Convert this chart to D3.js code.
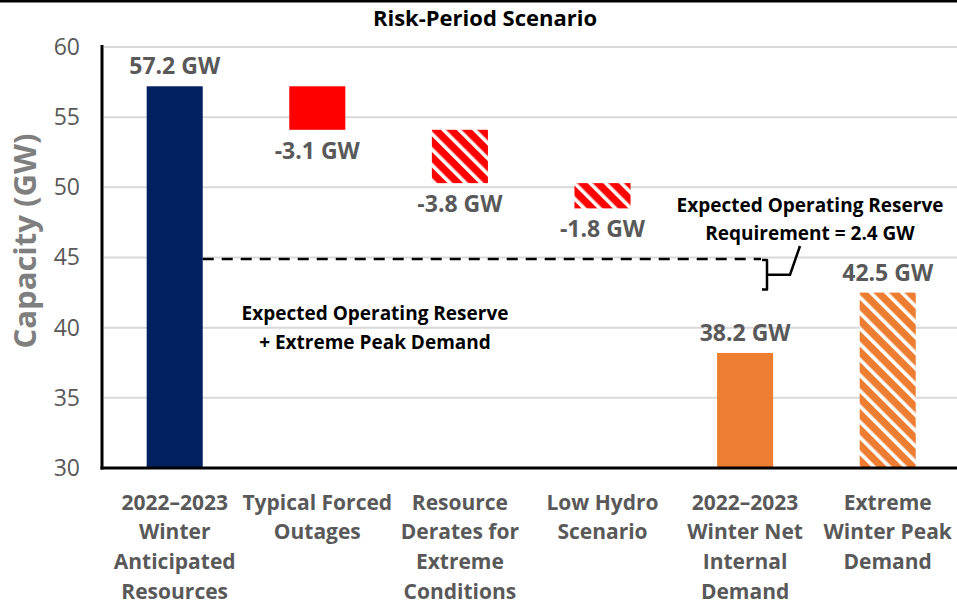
<!DOCTYPE html>
<html>
<head>
<meta charset="utf-8">
<script src="https://cdn.jsdelivr.net/npm/d3@7"></script>
<style>
  html, body { margin: 0; padding: 0; background: #fff; }
  svg { display: block; font-family: "Open Sans", Lato, sans-serif; }
</style>
</head>
<body>
<svg id="chart" width="957" height="605"></svg>
<script>
// Waterfall steps, in GW
const categories = [
  ["2022\u20132023", "Winter", "Anticipated", "Resources"],
  ["Typical Forced", "Outages"],
  ["Resource", "Derates for", "Extreme", "Conditions"],
  ["Low Hydro", "Scenario"],
  ["2022\u20132023", "Winter Net", "Internal", "Demand"],
  ["Extreme", "Winter Peak", "Demand"]
];
const stepValues = [57.2, -3.1, -3.8, -1.8, 38.2, 42.5];
const stepKinds  = ["total", "delta", "delta", "delta", "total", "total"];
const stepFills  = ["navy", "red", "redHatch", "redHatch", "orange", "orangeHatch"];
const yTicks = [30, 35, 40, 45, 50, 55, 60];
const reserveRequirement = 2.4;

const palette = { navy: "#002060", red: "#FF0000", orange: "#ED7D31" };
const FONT = '"Open Sans", Lato, sans-serif';

const svg = d3.select("#chart");
const W = 957, H = 605;

const y = d3.scaleLinear().domain([30, 60]).range([468, 47]);
const x = d3.scaleBand()
  .domain(d3.range(categories.length))
  .range([103.4, 959])
  .paddingInner(0.607)
  .paddingOuter(0.3035);

// diagonal hatch fills
const defs = svg.append("defs");
function hatch(id, color) {
  const p = defs.append("pattern")
    .attr("id", id)
    .attr("patternUnits", "userSpaceOnUse")
    .attr("width", 11).attr("height", 11)
    .attr("patternTransform", "rotate(45)");
  p.append("rect").attr("width", 11).attr("height", 11).attr("fill", "#fff");
  p.append("rect").attr("width", 11).attr("height", 7.4).attr("fill", color);
}
hatch("redHatch", palette.red);
hatch("orangeHatch", palette.orange);
const fillFor = k => k === "redHatch" ? "url(#redHatch)" :
                     k === "orangeHatch" ? "url(#orangeHatch)" : palette[k];

// top rule
svg.append("rect").attr("x", 0).attr("y", 0).attr("width", W).attr("height", 2.5).attr("fill", "#000");

// title
svg.append("text")
  .attr("x", 485).attr("y", 26)
  .attr("text-anchor", "middle")
  .attr("font-weight", 700).attr("font-size", 22).attr("fill", "#000")
  .text("Risk-Period Scenario");

// gridlines
svg.append("g").selectAll("line")
  .data(yTicks.filter(t => t > 30))
  .join("line")
  .attr("x1", 104).attr("x2", W)
  .attr("y1", d => y(d)).attr("y2", d => y(d))
  .attr("stroke", "#d9d9d9").attr("stroke-width", 2);

// y axis
const yAxis = svg.append("g")
  .attr("transform", "translate(102,0)")
  .call(d3.axisLeft(y).tickValues(yTicks).tickSize(0).tickPadding(22).tickFormat(d3.format("d")));
yAxis.select(".domain").remove();
yAxis.selectAll("text")
  .attr("font-family", FONT)
  .attr("font-size", 23).attr("fill", "#595959");

svg.append("text")
  .attr("transform", "translate(36,241) rotate(-90)")
  .attr("text-anchor", "middle")
  .attr("font-weight", 700).attr("font-size", 31).attr("fill", "#7f7f7f")
  .text("Capacity (GW)");

// floating bar extents
let running = 0;
const bars = stepValues.map((v, i) => {
  let lo, hi;
  if (stepKinds[i] === "total") { lo = 30; hi = v; running = v; }
  else { hi = running; lo = running + v; running = lo; }
  return { i, v, lo, hi, kind: stepKinds[i], fill: stepFills[i] };
});

svg.append("g").selectAll("rect")
  .data(bars)
  .join("rect")
  .attr("x", d => x(d.i))
  .attr("width", x.bandwidth())
  .attr("y", d => y(d.hi))
  .attr("height", d => y(d.lo) - y(d.hi))
  .attr("fill", d => fillFor(d.fill));

// value labels
svg.append("g").selectAll("text")
  .data(bars)
  .join("text")
  .attr("x", d => x(d.i) + x.bandwidth() / 2)
  .attr("y", d => d.kind === "total" ? y(d.hi) - 12 : y(d.lo) + 29)
  .attr("text-anchor", "middle")
  .attr("font-weight", 700).attr("font-size", 23).attr("fill", "#595959")
  .text(d => d.v.toFixed(1) + " GW");

// axis lines
svg.append("line").attr("x1", 102).attr("x2", 102).attr("y1", 45).attr("y2", 469.5)
  .attr("stroke", "#000").attr("stroke-width", 3);
svg.append("line").attr("x1", 100.5).attr("x2", W).attr("y1", 468).attr("y2", 468)
  .attr("stroke", "#000").attr("stroke-width", 3);

// category labels
const cat = svg.append("g").selectAll("text")
  .data(categories)
  .join("text")
  .attr("x", (d, i) => x(i) + x.bandwidth() / 2)
  .attr("y", 509.5)
  .attr("text-anchor", "middle")
  .attr("font-weight", 700).attr("font-size", 21).attr("fill", "#595959");
cat.selectAll("tspan")
  .data(d => d)
  .join("tspan")
  .attr("x", function () { return d3.select(this.parentNode).attr("x"); })
  .attr("dy", (d, j) => j === 0 ? 0 : 29.7)
  .text(d => d);

// reserve line: extreme peak demand + operating reserve
const peak = stepValues[5];
const reserveY = y(peak + reserveRequirement);
const peakY = y(peak);
svg.append("line")
  .attr("x1", x(0) + x.bandwidth()).attr("x2", 761)
  .attr("y1", reserveY).attr("y2", reserveY)
  .attr("stroke", "#000").attr("stroke-width", 2.5)
  .attr("stroke-dasharray", "11 8");

// bracket with leader
const bTop = reserveY + 1, bBot = peakY - 3, bMid = (bTop + bBot) / 2;
svg.append("path")
  .attr("d", `M762,${bTop} H767 V${bBot} H762 M767,${bMid} H790 L800,246`)
  .attr("fill", "none").attr("stroke", "#000").attr("stroke-width", 2.5)
  .attr("stroke-linejoin", "round");

// annotations
function note(cx, y0, lines) {
  const t = svg.append("text")
    .attr("x", cx).attr("y", y0)
    .attr("text-anchor", "middle")
    .attr("font-weight", 700).attr("font-size", 19).attr("fill", "#000");
  lines.forEach((s, j) => t.append("tspan").attr("x", cx).attr("dy", j ? 28.5 : 0).text(s));
}
note(810, 211.5, ["Expected Operating Reserve", "Requirement = 2.4 GW"]);
note(375, 320, ["Expected Operating Reserve", "+ Extreme Peak Demand"]);
</script>
</body>
</html>
